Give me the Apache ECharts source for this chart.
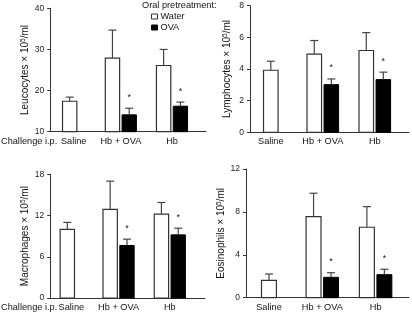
<!DOCTYPE html>
<html>
<head>
<meta charset="utf-8">
<script src="https://cdn.jsdelivr.net/npm/echarts@6/dist/echarts.min.js"></script>
<style>html,body{margin:0;padding:0;background:#fff;}#c{width:412px;height:312px;}</style>
</head>
<body>
<div id="c"></div>
<script>
// ---- data ----
const categories = ['Saline', 'Hb + OVA', 'Hb'];
const leucoWater = [17.4, 27.9, 26.1];
const leucoWaterErr = [1.0, 6.8, 3.9];
const leucoOva = [null, 14.1, 16.2];
const leucoOvaErr = [null, 1.6, 1.0];
const lymphoWater = [3.92, 4.94, 5.17];
const lymphoWaterErr = [0.57, 0.86, 1.13];
const lymphoOva = [null, 3.01, 3.33];
const lymphoOvaErr = [null, 0.36, 0.47];
const macroWater = [10.0, 12.9, 12.2];
const macroWaterErr = [1.0, 4.1, 1.7];
const macroOva = [null, 7.64, 9.19];
const macroOvaErr = [null, 0.92, 0.97];
const eosWater = [1.62, 7.56, 6.57];
const eosWaterErr = [0.59, 2.18, 1.92];
const eosOva = [null, 1.9, 2.15];
const eosOvaErr = [null, 0.43, 0.5];
const significant = [false, true, true];
const leucoTicks = [10, 40, 10];
const lymphoTicks = [0, 8, 2];
const macroTicks = [0, 18, 6];
const eosTicks = [0, 12, 4];
const yNames = ['Leucocytes', 'Lymphocytes', 'Macrophages', 'Eosinophils'];

const FONT = "'Liberation Sans', Arial, sans-serif";

const panels = [
  {water: leucoWater, werr: leucoWaterErr, ova: leucoOva, oerr: leucoOvaErr, ticks: leucoTicks, name: yNames[0],
   top: 8.3, height: 123.4, bLeft: 49.3, bWidth: 156.7, aLeft: 44.1, aWidth: 153.5, nameGap: 19, challenge: true},
  {water: lymphoWater, werr: lymphoWaterErr, ova: lymphoOva, oerr: lymphoOvaErr, ticks: lymphoTicks, name: yNames[1],
   top: 5.7, height: 126.6, bLeft: 250, bWidth: 159, aLeft: 244.8, aWidth: 156, nameGap: 17, challenge: false},
  {water: macroWater, werr: macroWaterErr, ova: macroOva, oerr: macroOvaErr, ticks: macroTicks, name: yNames[2],
   top: 174.3, height: 124, bLeft: 48.3, bWidth: 156.7, aLeft: 41.7, aWidth: 153.75, nameGap: 19, challenge: true},
  {water: eosWater, werr: eosWaterErr, ova: eosOva, oerr: eosOvaErr, ticks: eosTicks, name: yNames[3],
   top: 169, height: 128.7, bLeft: 246, bWidth: 163, aLeft: 242.3, aWidth: 160, nameGap: 19, challenge: false}
];

const grids = [], xAxes = [], yAxes = [], series = [];

function makeRender(kind, ovaVals, yMin) {
  return function (params, api) {
    const i = api.value(0), v = api.value(1), e = api.value(2);
    const band = api.size([1, 0])[0];
    const paired = ovaVals[i] != null;
    const off = paired ? (kind === 'water' ? -1 : 1) * band * 0.164 : 0;
    const pTop = api.coord([i, v]);
    const cx = pTop[0] + off;
    const top = pTop[1];
    const base = api.coord([i, yMin])[1];
    const et = api.coord([i, v + e])[1];
    const bw = band * 0.28;
    const children = [
      {type: 'rect', shape: {x: cx - bw / 2, y: top, width: bw, height: base - top},
       style: kind === 'water' ? {fill: '#fff', stroke: '#333', lineWidth: 1.2} : {fill: '#000', stroke: '#000', lineWidth: 1}},
      {type: 'line', shape: {x1: cx, y1: top, x2: cx, y2: et}, style: {stroke: '#444', lineWidth: 1.2}},
      {type: 'line', shape: {x1: cx - 4, y1: et, x2: cx + 4, y2: et}, style: {stroke: '#444', lineWidth: 1.2}}
    ];
    if (kind === 'ova' && significant[i]) {
      children.push({type: 'text', x: cx, y: et - 11,
        style: {text: '*', fontSize: 9, fontFamily: FONT, fill: '#222', align: 'center', verticalAlign: 'middle'}});
    }
    return {type: 'group', children: children};
  };
}

panels.forEach(function (p, k) {
  const gA = grids.length;
  grids.push({left: p.aLeft, width: p.aWidth, top: p.top, height: p.height});
  const gB = grids.length;
  grids.push({left: p.bLeft, width: p.bWidth, top: p.top, height: p.height});
  const [mn, mx, iv] = p.ticks;
  const catData = categories.map((c, i) => (p.challenge && i === 0)
    ? {value: c, textStyle: {padding: [0, 0, 0, 8]}} : c);
  const xA = xAxes.length;
  xAxes.push({gridIndex: gA, type: 'category', data: catData,
    axisLine: {show: false}, axisTick: {show: false},
    axisLabel: {interval: 0, fontSize: 9.2, fontFamily: FONT, color: '#111', margin: 5}});
  const yA = yAxes.length;
  yAxes.push({gridIndex: gA, type: 'value', min: mn, max: mx, interval: iv, show: false});
  xAxes.push({gridIndex: gB, type: 'value', min: 0, max: 1,
    axisLine: {show: true, lineStyle: {color: '#333', width: 1}},
    axisTick: {show: false}, axisLabel: {show: false}, splitLine: {show: false},
    name: p.challenge ? 'Challenge i.p.' : '', nameLocation: 'start', nameGap: -7,
    nameTextStyle: {fontSize: 9.2, fontFamily: FONT, color: '#111', align: 'right', verticalAlign: 'top', padding: [5, 0, 0, 0]}});
  yAxes.push({gridIndex: gB, type: 'value', min: mn, max: mx, interval: iv,
    axisLine: {show: true, lineStyle: {color: '#333', width: 1}},
    axisTick: {show: true, length: 3, lineStyle: {color: '#333'}},
    axisLabel: {fontSize: 8.5, fontFamily: FONT, color: '#222', margin: 6},
    splitLine: {show: false},
    name: p.name + ' × 10{sup|5}/ml', nameLocation: 'middle', nameGap: p.nameGap, nameRotate: 90,
    nameTextStyle: {fontSize: 10, fontFamily: FONT, color: '#111',
      rich: {sup: {fontSize: 6.5, fontFamily: FONT, color: '#111', verticalAlign: 'top', padding: [0, 0, 4, 0]}}}});

  const wData = p.water.map((v, i) => v == null ? null : [i, v, p.werr[i]]).filter(Boolean);
  const oData = p.ova.map((v, i) => v == null ? null : [i, v, p.oerr[i]]).filter(Boolean);
  series.push({type: 'custom', name: 'Water', xAxisIndex: xA, yAxisIndex: yA, clip: false,
    itemStyle: {color: '#fff', borderColor: '#333', borderWidth: 1},
    encode: {x: 0, y: 1}, renderItem: makeRender('water', p.ova, mn), data: wData});
  series.push({type: 'custom', name: 'OVA', xAxisIndex: xA, yAxisIndex: yA, clip: false,
    itemStyle: {color: '#000', borderColor: '#000', borderWidth: 1},
    encode: {x: 0, y: 1}, renderItem: makeRender('ova', p.ova, mn), data: oData});
});

const chart = echarts.init(document.getElementById('c'), null, {renderer: 'canvas'});
chart.setOption({
  animation: false,
  backgroundColor: '#fff',
  title: {text: 'Oral pretreatment:', left: 142, top: 1, padding: 0,
    textStyle: {fontSize: 9.2, fontWeight: 'normal', fontFamily: FONT, color: '#111'}},
  legend: {orient: 'vertical', left: 151, top: 12, padding: 0, itemGap: 2, itemWidth: 6, itemHeight: 5,
    textStyle: {fontSize: 9.2, fontFamily: FONT, color: '#111', padding: [0, 0, 0, -2]},
    data: [
      {name: 'Water', icon: 'rect', itemStyle: {color: '#fff', borderColor: '#333', borderWidth: 1}},
      {name: 'OVA', icon: 'rect', itemStyle: {color: '#000', borderColor: '#000', borderWidth: 1}}
    ]},
  grid: grids, xAxis: xAxes, yAxis: yAxes, series: series
});
</script>
</body>
</html>
